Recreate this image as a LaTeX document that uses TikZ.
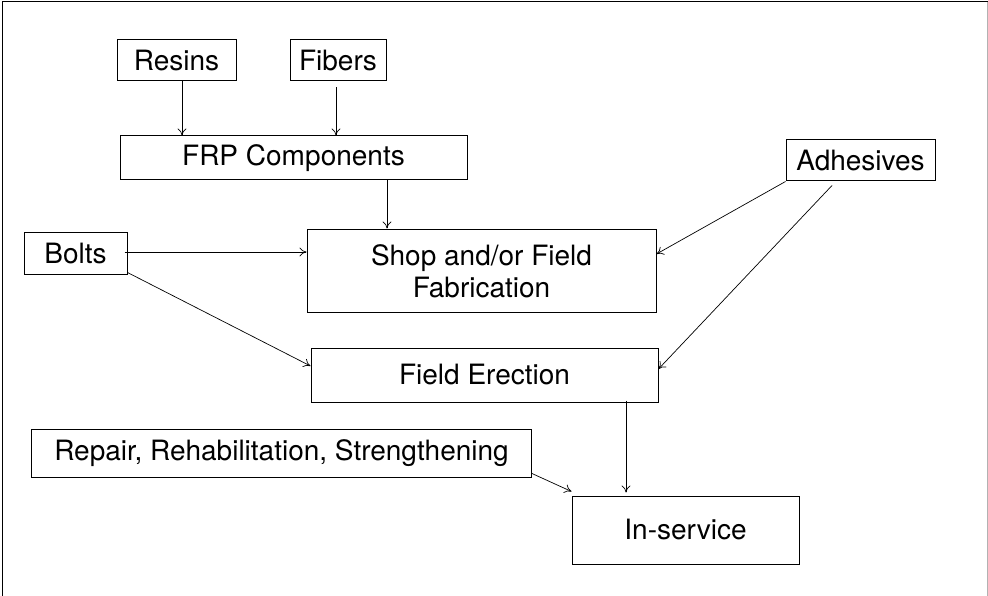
\documentclass[tikz,border=0pt]{standalone}
\usepackage{fontspec}
\setmainfont{TeX Gyre Heros}
\usetikzlibrary{arrows.meta}
\tikzset{
  box/.style={draw=black, line width=1pt, fill=white, inner sep=0pt, align=center,
    font=\fontsize{28}{32}\selectfont},
  arr/.style={draw=black, line width=0.7pt, -{To[length=7pt,width=9pt]}},
}
\begin{document}
\begin{tikzpicture}[x=1pt,y=-1pt]
\useasboundingbox (0,0) rectangle (988,596);
\draw[line width=1pt] (2,596) -- (2,2) -- (988,2);
\draw[line width=1pt, gray!60] (987,2) -- (987,596);

\node[box, minimum width=119pt, minimum height=41pt] (resins) at (176.5,60.5) {Resins};
\node[box, minimum width=96pt, minimum height=41pt] (fibers) at (338,60.5) {Fibers};
\node[box, minimum width=347pt, minimum height=44pt] (frp) at (293.5,158) {FRP Components};
\node[box, minimum width=149pt, minimum height=41pt] (adh) at (860.5,160.5) {Adhesives};
\node[box, minimum width=103pt, minimum height=41pt] (bolts) at (75.5,253.5) {Bolts};
\node[box, minimum width=349pt, minimum height=82pt] (shop) at (481.5,271) {Shop and/or Field\\Fabrication};
\node[box, minimum width=347pt, minimum height=54pt] (fe) at (484.5,375) {Field Erection};
\node[box, minimum width=500pt, minimum height=48pt] (rep) at (281.5,453) {Repair, Rehabilitation, Strengthening};
\node[box, minimum width=227pt, minimum height=68pt] (ins) at (685.5,530) {In-service};

\draw[arr] ([xshift=5.5pt]resins.south) -- ([xshift=-111.5pt]frp.north);
\draw[arr] ([xshift=-2pt,yshift=-6pt]fibers.south) -- ([xshift=42.5pt]frp.north);
\draw[arr] ([xshift=93.5pt]frp.south) -- ([xshift=-94.5pt,yshift=1pt]shop.north);
\draw[arr] (adh.south west) -- ([yshift=17pt]shop.east);
\draw[arr] ([xshift=-28.5pt,yshift=-4pt]adh.south) -- ([yshift=6pt]fe.east);
\draw[arr] ([xshift=-3pt,yshift=1.5pt]bolts.east) -- ([yshift=19pt]shop.west);
\draw[arr] ([yshift=2pt]bolts.south east) -- ([yshift=9pt]fe.west);
\draw[arr] ([yshift=4pt]rep.south east) -- ([yshift=4pt]ins.north west);
\draw[arr] ([xshift=141.5pt,yshift=2pt]fe.south) -- ([xshift=-59.5pt,yshift=3pt]ins.north);
\end{tikzpicture}
\end{document}
